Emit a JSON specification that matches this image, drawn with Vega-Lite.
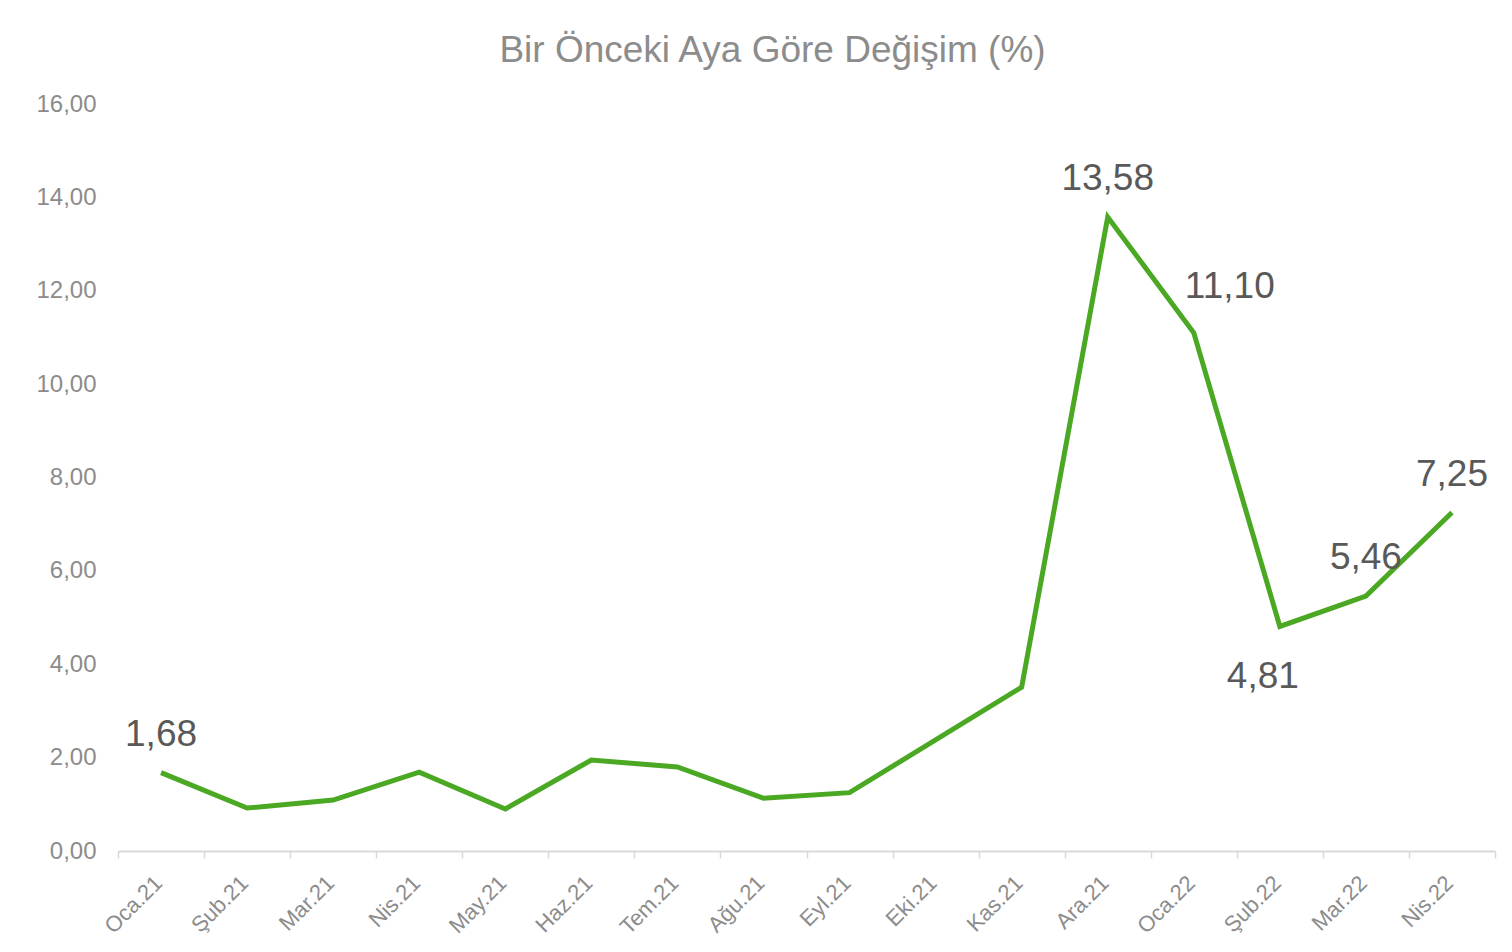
{
  "$schema": "https://vega.github.io/schema/vega-lite/v6.json",
  "width": 1377,
  "height": 747,
  "autosize": "none",
  "padding": {"left": 118, "top": 104, "right": 17, "bottom": 101},
  "background": "white",
  "title": {
    "text": "Bir Önceki Aya Göre Değişim (%)",
    "font": "Liberation Sans",
    "fontSize": 37,
    "fontWeight": "normal",
    "color": "#8c8c8c",
    "anchor": "middle",
    "frame": "group",
    "dx": -34,
    "offset": 22
  },
  "config": {
    "view": {"stroke": null},
    "font": "Liberation Sans"
  },
  "data": {
    "values": [
      {"ay": "Oca.21", "deger": 1.68},
      {"ay": "Şub.21", "deger": 0.92},
      {"ay": "Mar.21", "deger": 1.09},
      {"ay": "Nis.21", "deger": 1.69},
      {"ay": "May.21", "deger": 0.90},
      {"ay": "Haz.21", "deger": 1.95},
      {"ay": "Tem.21", "deger": 1.80},
      {"ay": "Ağu.21", "deger": 1.13},
      {"ay": "Eyl.21", "deger": 1.25},
      {"ay": "Eki.21", "deger": 2.38},
      {"ay": "Kas.21", "deger": 3.51},
      {"ay": "Ara.21", "deger": 13.58},
      {"ay": "Oca.22", "deger": 11.10},
      {"ay": "Şub.22", "deger": 4.81},
      {"ay": "Mar.22", "deger": 5.46},
      {"ay": "Nis.22", "deger": 7.25}
    ]
  },
  "transform": [
    {"calculate": "replace(format(datum.deger, '.2f'), '.', ',')", "as": "etiket"}
  ],
  "encoding": {
    "x": {
      "field": "ay",
      "type": "ordinal",
      "sort": null,
      "scale": {"type": "band", "paddingInner": 0, "paddingOuter": 0},
      "axis": {
        "title": null,
        "labelAngle": -45,
        "labelAlign": "right",
        "labelBaseline": "top",
        "labelFont": "Liberation Sans",
        "labelFontSize": 22,
        "labelColor": "#8c8c8c",
        "labelPadding": 14,
        "labelOffset": -10,
        "tickBand": "extent",
        "tickColor": "#d9d9d9",
        "tickSize": 7,
        "tickWidth": 1.5,
        "domainColor": "#d9d9d9",
        "domainWidth": 2,
        "grid": false
      }
    },
    "y": {
      "field": "deger",
      "type": "quantitative",
      "scale": {"domain": [0, 16], "nice": false, "zero": true},
      "axis": {
        "title": null,
        "values": [0, 2, 4, 6, 8, 10, 12, 14, 16],
        "labelExpr": "replace(format(datum.value, '.2f'), '.', ',')",
        "labelFont": "Liberation Sans",
        "labelFontSize": 24,
        "labelColor": "#8c8c8c",
        "labelPadding": 22,
        "ticks": false,
        "domain": false,
        "grid": false
      }
    }
  },
  "layer": [
    {
      "mark": {"type": "line", "color": "#4aa823", "strokeWidth": 5, "strokeJoin": "miter"}
    },
    {
      "transform": [{"filter": "indexof(['Oca.21','Ara.21','Mar.22','Nis.22'], datum.ay) >= 0"}],
      "mark": {"type": "text", "fontSize": 37, "color": "#595959", "baseline": "middle", "align": "center", "dy": -38, "font": "Liberation Sans"},
      "encoding": {"text": {"field": "etiket", "type": "nominal"}}
    },
    {
      "transform": [{"filter": "datum.ay === 'Oca.22'"}],
      "mark": {"type": "text", "fontSize": 37, "color": "#595959", "baseline": "middle", "align": "center", "dx": 36, "dy": -46, "font": "Liberation Sans"},
      "encoding": {"text": {"field": "etiket", "type": "nominal"}}
    },
    {
      "transform": [{"filter": "datum.ay === 'Şub.22'"}],
      "mark": {"type": "text", "fontSize": 37, "color": "#595959", "baseline": "middle", "align": "center", "dx": -17, "dy": 51, "font": "Liberation Sans"},
      "encoding": {"text": {"field": "etiket", "type": "nominal"}}
    }
  ]
}
